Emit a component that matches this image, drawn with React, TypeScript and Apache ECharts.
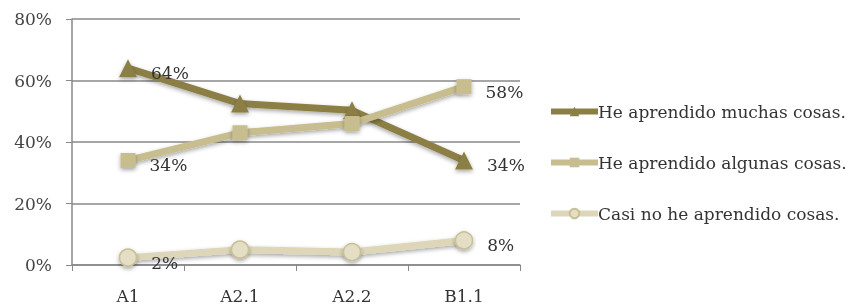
import React, { useEffect, useRef } from "react";
import * as echarts from "echarts";

const categories = ["A1", "A2.1", "A2.2", "B1.1"];
const seriesNames = [
  "He aprendido muchas cosas.",
  "He aprendido algunas cosas.",
  "Casi no he aprendido cosas.",
];
const muchas = [64, 52.5, 50.3, 34];
const algunas = [34, 43, 46, 58];
const casiNo = [2.4, 5, 4.2, 8];
const yTicks = [0, 20, 40, 60, 80];

const FONT = "DejaVu Serif";

export default function App() {
  const ref = useRef<HTMLDivElement>(null);
  useEffect(() => {
    if (!ref.current) return;
    const chart = echarts.init(ref.current, undefined, { renderer: "svg" });
    const mk = (vals: number[]) =>
      vals.map((v, i) => ({
        value: v,
        label: {
          show: i === 0 || i === vals.length - 1,
        },
      }));
    const labelCfg = {
      position: "right",
      distance: 14,
      offset: [0, 5],
      formatter: (p: any) => Math.round(p.value) + "%",
      fontFamily: FONT,
      fontSize: 17,
      color: "#333",
    };
    const shadow = {
      shadowColor: "rgba(0,0,0,0.35)",
      shadowBlur: 4,
      shadowOffsetY: 2,
    };
    chart.setOption({
      animation: false,
      grid: { left: 72, right: 331, top: 19, bottom: 38 },
      legend: {
        orient: "vertical",
        left: 543,
        top: 98,
        itemWidth: 47,
        itemHeight: 12,
        itemGap: 34,
        lineStyle: { width: 6 },
        textStyle: { fontFamily: FONT, fontSize: 17, color: "#333", padding: [0, 0, 0, -5] },
        data: seriesNames,
      },
      xAxis: {
        type: "category",
        data: categories,
        boundaryGap: true,
        axisLine: { lineStyle: { color: "#888", width: 1.5 } },
        axisTick: { show: true, length: 6, lineStyle: { color: "#888" } },
        axisLabel: { fontFamily: FONT, fontSize: 17, color: "#333", margin: 22 },
      },
      yAxis: {
        type: "value",
        min: 0,
        max: 80,
        interval: 20,
        axisLine: { show: true, lineStyle: { color: "#888", width: 1.5 } },
        axisTick: { show: true, length: 6, lineStyle: { color: "#888" } },
        splitLine: { lineStyle: { color: "#888", width: 1.5 } },
        axisLabel: {
          fontFamily: FONT,
          fontSize: 17,
          color: "#444",
          margin: 20,
          formatter: (v: number) => (yTicks.includes(v) ? v + "%" : ""),
        },
      },
      series: [
        {
          name: seriesNames[0],
          type: "line",
          data: mk(muchas),
          symbol: "triangle",
          symbolSize: 18,
          lineStyle: { color: "#8C7F45", width: 7, ...shadow },
          itemStyle: { color: "#8C7F45", ...shadow },
          label: labelCfg,
          z: 3,
        },
        {
          name: seriesNames[1],
          type: "line",
          data: mk(algunas),
          symbol: "rect",
          symbolSize: 15,
          lineStyle: { color: "#C7BD8F", width: 7, ...shadow },
          itemStyle: { color: "#C7BD8F", ...shadow },
          label: labelCfg,
          z: 4,
        },
        {
          name: seriesNames[2],
          type: "line",
          data: mk(casiNo),
          symbol: "circle",
          symbolSize: 17,
          lineStyle: { color: "#DDD6B8", width: 7, ...shadow },
          itemStyle: { color: "#E4DEC4", borderColor: "#C9BF96", borderWidth: 1.5, ...shadow },
          label: labelCfg,
          z: 2,
        },
      ],
    });
    return () => chart.dispose();
  }, []);
  return (
    <div
      ref={ref}
      style={{ position: "fixed", left: 0, top: 0, width: 851, height: 304 }}
    />
  );
}
